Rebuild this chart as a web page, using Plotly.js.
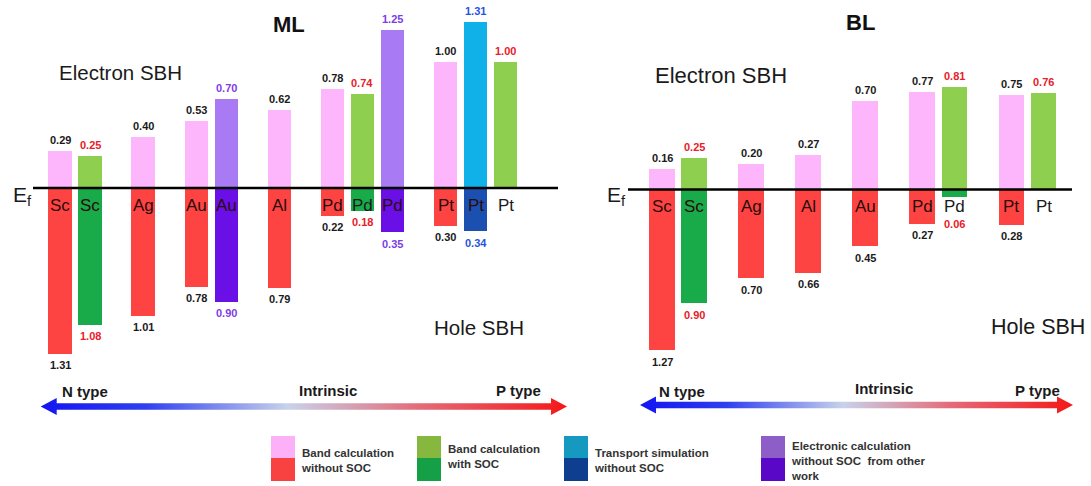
<!DOCTYPE html>
<html>
<head>
<meta charset="utf-8">
<script src="https://cdn.plot.ly/plotly-3.0.1.min.js"></script>
<style>html,body{margin:0;padding:0;background:#fff}#chart{width:1091px;height:486px}</style>
</head>
<body>
<div id="chart"></div>
<script>
// ---------------- DATA ----------------
const metalsML = ['Sc', 'Ag', 'Au', 'Al', 'Pd', 'Pt'];
// ML: band calculation without SOC
const mlBandE = [0.29, 0.40, 0.53, 0.62, 0.78, 1.00];
const mlBandH = [1.31, 1.01, 0.78, 0.79, 0.22, 0.30];
// ML: transport simulation without SOC
const mlTransE = [null, null, null, null, null, 1.31];
const mlTransH = [null, null, null, null, null, 0.34];
// ML: band calculation with SOC
const mlSocE = [0.25, null, null, null, 0.74, 1.00];
const mlSocH = [1.08, null, null, null, 0.18, null];
// ML: electronic calculation without SOC from other work
const mlOtherE = [null, null, 0.70, null, 1.25, null];
const mlOtherH = [null, null, 0.90, null, 0.35, null];

const metalsBL = ['Sc', 'Ag', 'Al', 'Au', 'Pd', 'Pt'];
const blBandE = [0.16, 0.20, 0.27, 0.70, 0.77, 0.75];
const blBandH = [1.27, 0.70, 0.66, 0.45, 0.27, 0.28];
const blSocE = [0.25, null, null, null, 0.81, 0.76];
const blSocH = [0.90, null, null, null, 0.06, null];

const legendLabels = ['Band calculation<br>without SOC', 'Band calculation<br>with SOC',
  'Transport simulation<br>without SOC', 'Electronic calculation<br>without SOC  from other<br>work'];

// ---------------- STYLE ----------------
const W = 1091, H = 486;
const FONT = 'Arial, "Liberation Sans", sans-serif';
const methodOrder = ['band', 'trans', 'soc', 'other'];
const style = {
  band:  {e: '#fdb5fb', h: '#fe4343', label: '#1a1a1a', legE: '#fbb0f8', legH: '#f84242'},
  trans: {e: '#10b0e9', h: '#1b4fb0', label: '#1f55e0', legE: '#1599c0', legH: '#0e3f8f'},
  soc:   {e: '#8fcf50', h: '#19aa4a', label: '#e8202a', legE: '#86b840', legH: '#15a048'},
  other: {e: '#a87bf5', h: '#6a10e6', label: '#7d3ce6', legE: '#8e5ec8', legH: '#5a08c8'}
};
const GAP = 1.77;

const panels = [
  {metals: metalsML, xa: 'x', ya: 'y', width: 0.78,
   series: {band: [mlBandE, mlBandH], trans: [mlTransE, mlTransH], soc: [mlSocE, mlSocH], other: [mlOtherE, mlOtherH]}},
  {metals: metalsBL, xa: 'x2', ya: 'y2', width: 0.79,
   series: {band: [blBandE, blBandH], soc: [blSocE, blSocH]}}
];

const traces = [];
const annotations = [];
const shapes = [];

panels.forEach(p => {
  // compute slot positions
  const posMap = {};
  methodOrder.forEach(m => posMap[m] = []);
  let pos = -GAP;
  p.metals.forEach((metal, g) => {
    pos += GAP - 1;
    methodOrder.forEach(m => {
      const s = p.series[m];
      if (!s) return;
      if (s[0][g] == null && s[1][g] == null) { posMap[m].push(null); return; }
      pos += 1;
      posMap[m].push(pos);
    });
  });
  methodOrder.forEach(m => {
    const s = p.series[m];
    if (!s) return;
    const xs = [], ye = [], yh = [];
    p.metals.forEach((metal, g) => {
      const x = posMap[m][g];
      if (x == null) return;
      const e = s[0][g], h = s[1][g];
      xs.push(x); ye.push(e); yh.push(h == null ? null : -h);
      const ax = p.xa, ay = p.ya;
      if (e != null) {
        annotations.push({xref: ax, yref: ay, x: x, y: e, yshift: 11, showarrow: false, yanchor: 'middle',
          text: e.toFixed(2), font: {family: FONT, size: 11, color: style[m].label, weight: 'bold'}});
      }
      if (h != null) {
        annotations.push({xref: ax, yref: ay, x: x, y: -Math.max(h, 0.18), yshift: -11.5, showarrow: false, yanchor: 'middle',
          text: h.toFixed(2), font: {family: FONT, size: 11, color: style[m].label, weight: 'bold'}});
      }
      const onBar = h != null && h > 0.2;
      annotations.push({xref: ax, yref: ay, x: x, y: 0, yshift: -17, showarrow: false, yanchor: 'middle',
        text: metal, font: {family: FONT, size: 17, color: onBar ? '#2a0c0c' : '#1a1a1a'}});
    });
    traces.push({type: 'bar', x: xs, y: ye, xaxis: p.xa, yaxis: p.ya, width: p.width,
      marker: {color: style[m].e, line: {width: 0}}, hoverinfo: 'skip'});
    traces.push({type: 'bar', x: xs, y: yh, xaxis: p.xa, yaxis: p.ya, width: p.width,
      marker: {color: style[m].h, line: {width: 0}}, hoverinfo: 'skip'});
  });
});

// ---------------- arrows (decoration, pixel axis) ----------------
function arrow(tipL, tipR, yc) {
  const hl = 16, hh = 8.5, sh = 3.2;
  return {
    x: [tipL, tipL + hl, tipL + hl, tipR - hl, tipR - hl, tipR, tipR - hl, tipR - hl, tipL + hl, tipL + hl, tipL],
    y: [yc, yc - hh, yc - sh, yc - sh, yc - hh, yc, yc + hh, yc + sh, yc + sh, yc + hh, yc]
  };
}
const gradScale = [[0, '#1414f2'], [0.2, '#2f40f0'], [0.47, '#c8d2ea'], [0.72, '#e46a78'], [1, '#f41818']];
[[40.7, 567, 406.5], [640, 1073, 405]].forEach(a => {
  const ar = arrow(a[0], a[1], a[2]);
  traces.push({type: 'scatter', mode: 'lines', x: ar.x, y: ar.y, xaxis: 'x3', yaxis: 'y3',
    fill: 'toself', line: {width: 0, color: 'rgba(0,0,0,0)'},
    fillgradient: {type: 'horizontal', colorscale: gradScale}, hoverinfo: 'skip'});
});

// helpers in pixel coordinates -> paper
const px = v => v / W, py = v => 1 - v / H;
function txt(x, y, text, size, opts) {
  annotations.push(Object.assign({xref: 'paper', yref: 'paper', x: px(x), y: py(y), text: text, showarrow: false,
    xanchor: 'center', yanchor: 'middle', font: {family: FONT, size: size, color: '#1a1a1a'}}, opts || {}));
}
// titles
txt(289, 24, 'ML', 22, {font: {family: FONT, size: 22, color: '#111', weight: 'bold'}});
txt(860.5, 23, 'BL', 22, {font: {family: FONT, size: 22, color: '#111', weight: 'bold'}});
txt(57, 72, 'Electron SBH', 20.5, {xanchor: 'left'});
txt(653, 76, 'Electron SBH', 22, {xanchor: 'left'});
txt(432, 327, 'Hole SBH', 20.5, {xanchor: 'left'});
txt(989, 327, 'Hole SBH', 21.5, {xanchor: 'left'});
txt(11, 196, 'E<sub>f</sub>', 21, {xanchor: 'left'});
txt(605, 196, 'E<sub>f</sub>', 21, {xanchor: 'left'});
// arrow labels
const bold15 = {family: FONT, size: 15, color: '#1a1a1a', weight: 'bold'};
txt(84.5, 391, 'N type', 15, {font: bold15});
txt(327.5, 390, 'Intrinsic', 15, {font: bold15});
txt(518, 390, 'P type', 15, {font: bold15});
txt(682, 391, 'N type', 15, {font: bold15});
txt(884, 388, 'Intrinsic', 15, {font: bold15});
txt(1037, 390, 'P type', 15, {font: bold15});

// Ef lines
shapes.push({type: 'line', xref: 'paper', yref: 'y', x0: px(33), x1: px(558), y0: 0, y1: 0, line: {color: '#000', width: 2.5}, layer: 'above'});
shapes.push({type: 'line', xref: 'paper', yref: 'y2', x0: px(628), x1: px(1072), y0: 0, y1: 0, line: {color: '#000', width: 2.5}, layer: 'above'});

// legend
const legX = [271, 417, 564, 761];
const legTextY = [460, 456, 460, 461];
legendLabels.forEach((lab, i) => {
  const m = methodOrder[[0, 2, 1, 3][i]];
  shapes.push({type: 'rect', xref: 'paper', yref: 'paper', x0: px(legX[i]), x1: px(legX[i] + 24), y0: py(436), y1: py(458),
    fillcolor: style[m].legE, line: {width: 0}});
  shapes.push({type: 'rect', xref: 'paper', yref: 'paper', x0: px(legX[i]), x1: px(legX[i] + 24), y0: py(458), y1: py(481),
    fillcolor: style[m].legH, line: {width: 0}});
  txt(legX[i] + 28, legTextY[i], lab, 11.5, {xanchor: 'left', align: 'left',
    font: {family: FONT, size: 11.5, color: '#333', weight: 'bold'}});
});

const hidden = {visible: false, showgrid: false, zeroline: false, showticklabels: false, fixedrange: true};
const layout = {
  width: W, height: H,
  margin: {l: 0, r: 0, t: 0, b: 0, pad: 0},
  paper_bgcolor: '#ffffff', plot_bgcolor: 'rgba(0,0,0,0)',
  showlegend: false, barmode: 'overlay', bargap: 0,
  font: {family: FONT},
  xaxis: Object.assign({domain: [30 / W, 560 / W], range: [-1.0, -1.0 + 530 / 30], anchor: 'y'}, hidden),
  yaxis: Object.assign({domain: [0, 1], range: [-(H - 188) / 126.5, 188 / 126.5], anchor: 'x'}, hidden),
  xaxis2: Object.assign({domain: [620 / W, 1080 / W], range: [(620 - 662) / 32.2, (620 - 662) / 32.2 + 460 / 32.2], anchor: 'y2'}, hidden),
  yaxis2: Object.assign({domain: [0, 1], range: [-(H - 189.5) / 126.5, 189.5 / 126.5], anchor: 'x2'}, hidden),
  xaxis3: Object.assign({domain: [0, 1], range: [0, W], anchor: 'y3'}, hidden),
  yaxis3: Object.assign({domain: [0, 1], range: [H, 0], anchor: 'x3'}, hidden),
  annotations: annotations,
  shapes: shapes
};
Plotly.newPlot('chart', traces, layout, {staticPlot: true, displayModeBar: false});
</script>
</body>
</html>
